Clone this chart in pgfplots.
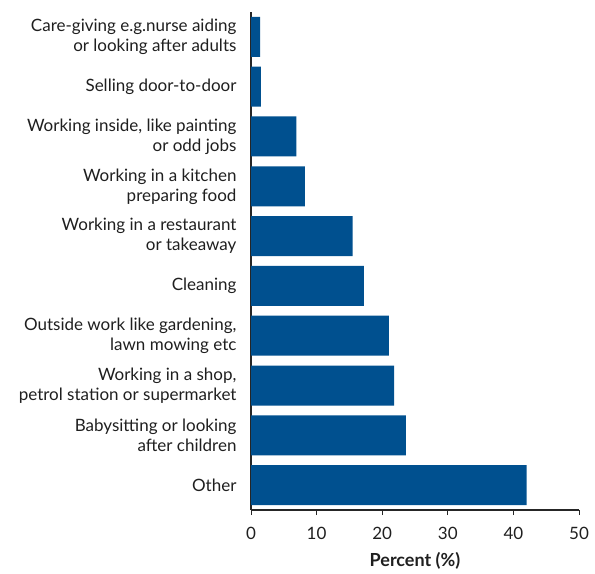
\documentclass[border=0pt]{standalone}
\usepackage{fontspec}
\setmainfont{Lato}
\usepackage{pgfplots}
\pgfplotsset{compat=1.18}
\definecolor{barblue}{RGB}{0,80,143}
\begin{document}
\begin{tikzpicture}
\begin{axis}[
  scale only axis, width=328pt, height=498pt,
  xbar, bar width=40pt,
  ymin=-0.5, ymax=9.5,
  xmin=0, xmax=50,
  axis x line*=bottom, axis y line*=left,
  axis line style={black!85, line width=1.2pt, -},
  ytick={0,...,9},
  yticklabels={Other,{Babysitting or looking\\after children},{Working in a shop,\\petrol station or supermarket},{Outside work like gardening,\\lawn mowing etc},Cleaning,{Working in a restaurant\\or takeaway},{Working in a kitchen\\preparing food},{Working inside, like painting\\or odd jobs},Selling door-to-door,{Care-giving e.g.nurse aiding\\or looking after adults}},
  yticklabel style={align=right, font=\fontsize{17}{20}\selectfont, text=black!88, xshift=-6pt},
  ytick style={draw=none},
  xtick={0,10,...,50}, tick align=outside, xtick style={black!85, line width=1pt}, major tick length=5pt,
  xticklabel style={font=\fontsize{17}{20}\selectfont, text=black!88, yshift=-9pt},
  xlabel={\textbf{Percent (\%)}},
  xlabel style={font=\fontsize{18}{21}\selectfont, text=black!88, yshift=-6pt},
  /pgf/number format/assume math mode=true,
  clip=false,
]
\addplot[fill=barblue, draw=none] coordinates {
(42.0,0) (23.6,1) (21.8,2) (21.0,3) (17.2,4) (15.5,5) (8.2,6) (6.9,7) (1.5,8) (1.4,9)};
\path (rel axis cs:0,0) ++(-251pt,-62pt) coordinate (bbA);
\path (rel axis cs:1,1) ++(16pt,12pt) coordinate (bbB);
\end{axis}
\useasboundingbox (bbA) rectangle (bbB);
\end{tikzpicture}
\end{document}
